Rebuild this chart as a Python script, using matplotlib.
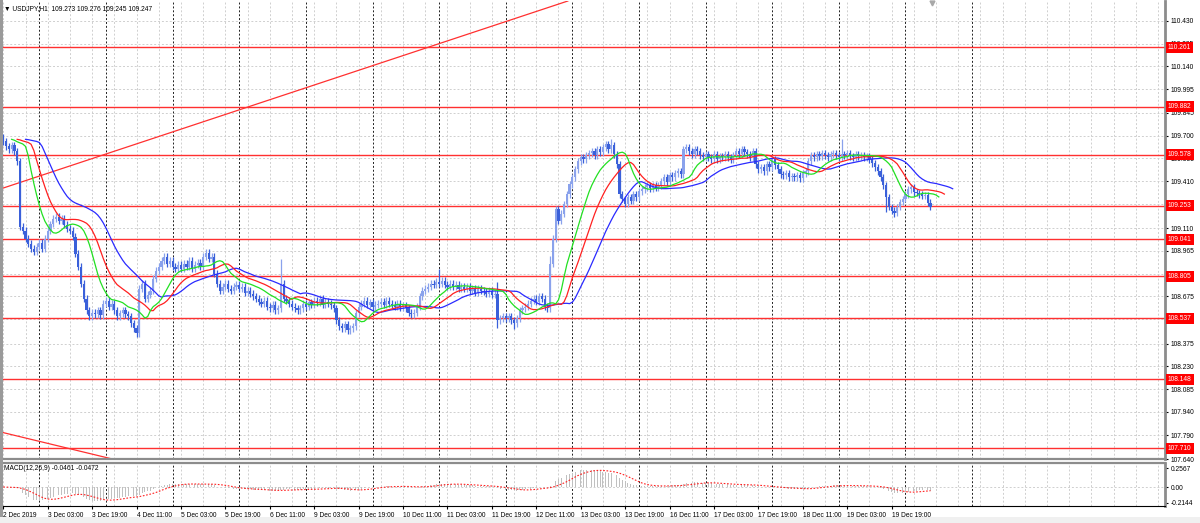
#------------------------------------------------imports---------------------------------------------------------------
import numpy as np
import pandas as pd
import matplotlib
matplotlib.use("Agg")
import matplotlib.pyplot as plt
from matplotlib.patches import Rectangle

#-------------------------------------------------data-----------------------------------------------------------------
# USDJPY H1 closes, bar 0 = 2 Dec 2019 11:00
closes = [
    109.663, 109.631, 109.612, 109.638, 109.600, 109.537, 109.118, 109.093, 109.042, 109.010,
    108.979, 108.960, 108.991, 109.017, 108.979, 109.042, 109.093, 109.137, 109.169, 109.182,
    109.156, 109.169, 109.131, 109.106, 109.093, 109.055, 108.947, 108.865, 108.757, 108.662,
    108.586, 108.548, 108.573, 108.561, 108.586, 108.554, 108.630, 108.649, 108.611, 108.630,
    108.586, 108.548, 108.567, 108.586, 108.561, 108.548, 108.504, 108.472, 108.440, 108.725,
    108.757, 108.662, 108.687, 108.713, 108.789, 108.839, 108.865, 108.903, 108.928, 108.884,
    108.903, 108.865, 108.852, 108.877, 108.852, 108.884, 108.865, 108.903, 108.852, 108.877,
    108.890, 108.865, 108.928, 108.953, 108.915, 108.928, 108.820, 108.757, 108.713, 108.738,
    108.757, 108.725, 108.713, 108.738, 108.751, 108.725, 108.738, 108.700, 108.713, 108.694,
    108.675, 108.662, 108.643, 108.630, 108.649, 108.611, 108.599, 108.624, 108.586, 108.599,
    108.757, 108.662, 108.649, 108.630, 108.611, 108.599, 108.586, 108.599, 108.630, 108.611,
    108.637, 108.624, 108.649, 108.637, 108.662, 108.624, 108.643, 108.630, 108.618, 108.599,
    108.523, 108.485, 108.472, 108.497, 108.459, 108.472, 108.485, 108.567, 108.611, 108.630,
    108.649, 108.624, 108.637, 108.611, 108.624, 108.630, 108.643, 108.624, 108.649, 108.630,
    108.624, 108.611, 108.630, 108.605, 108.618, 108.599, 108.573, 108.561, 108.573, 108.611,
    108.675, 108.713, 108.725, 108.738, 108.757, 108.751, 108.770, 108.757, 108.776, 108.751,
    108.738, 108.757, 108.738, 108.751, 108.725, 108.738, 108.725, 108.738, 108.713, 108.725,
    108.700, 108.725, 108.713, 108.706, 108.694, 108.713, 108.687, 108.694, 108.523, 108.535,
    108.548, 108.535, 108.548, 108.523, 108.504, 108.535, 108.586, 108.599, 108.611, 108.630,
    108.649, 108.662, 108.643, 108.675, 108.662, 108.611, 108.599, 108.884, 109.042, 109.232,
    109.156, 109.201, 109.264, 109.327, 109.391, 109.435, 109.486, 109.537, 109.562, 109.549,
    109.574, 109.587, 109.600, 109.574, 109.612, 109.593, 109.625, 109.644, 109.612, 109.638,
    109.581, 109.517, 109.327, 109.296, 109.264, 109.308, 109.283, 109.327, 109.308, 109.346,
    109.359, 109.372, 109.384, 109.365, 109.384, 109.372, 109.384, 109.410, 109.435, 109.403,
    109.448, 109.435, 109.460, 109.473, 109.454, 109.612, 109.625, 109.600, 109.581, 109.612,
    109.600, 109.574, 109.562, 109.581, 109.562, 109.549, 109.581, 109.549, 109.568, 109.562,
    109.581, 109.562, 109.549, 109.574, 109.600, 109.581, 109.612, 109.593, 109.581, 109.562,
    109.600, 109.517, 109.486, 109.498, 109.473, 109.517, 109.498, 109.549, 109.511, 109.486,
    109.454, 109.448, 109.460, 109.435, 109.441, 109.435, 109.448, 109.429, 109.460, 109.473,
    109.537, 109.574, 109.562, 109.581, 109.568, 109.587, 109.574, 109.562, 109.581, 109.587,
    109.574, 109.562, 109.581, 109.574, 109.587, 109.568, 109.562, 109.581, 109.568, 109.574,
    109.562, 109.568, 109.549, 109.524, 109.498, 109.473, 109.435, 109.384, 109.308, 109.245,
    109.220, 109.207, 109.245, 109.277, 109.296, 109.327, 109.359, 109.372, 109.340, 109.334,
    109.327, 109.315, 109.321, 109.273, 109.247,
]
first_open = 109.689

# notable wicks (bar index -> price)
spike_highs = {0: 109.700, 100: 108.915, 157: 108.852, 178: 108.770, 197: 108.930,
               219: 109.676, 302: 109.676}
spike_lows = {48: 108.420, 124: 108.440, 178: 108.472, 184: 108.470, 318: 109.215,
              321: 109.180}
WICK = 0.022

levels = [110.261, 109.882, 109.578, 109.253, 109.041, 108.805, 108.537, 108.148, 107.710]

price_ticks = [110.430, 110.285, 110.140, 109.995, 109.845, 109.700, 109.555, 109.410,
               109.265, 109.110, 108.965, 108.820, 108.675, 108.530, 108.375, 108.230,
               108.085, 107.940, 107.790, 107.640]
# ticks whose labels are fully covered by a level box in the terminal
hidden_ticks = [109.265, 108.820]

time_labels = ['2 Dec 2019', '3 Dec 03:00', '3 Dec 19:00', '4 Dec 11:00', '5 Dec 03:00',
               '5 Dec 19:00', '6 Dec 11:00', '9 Dec 03:00', '9 Dec 19:00', '10 Dec 11:00',
               '11 Dec 03:00', '11 Dec 19:00', '12 Dec 11:00', '13 Dec 03:00', '13 Dec 19:00',
               '16 Dec 11:00', '17 Dec 03:00', '17 Dec 19:00', '18 Dec 11:00', '19 Dec 03:00',
               '19 Dec 19:00']
LABEL_STEP = 16
# 00:00 bars (period separators)
day_starts = [13, 37, 61, 85, 109, 133, 157, 181, 205, 229, 253, 277, 301, 325, 349]

# trendlines: (bar index, price) anchor pairs
trend_up = [(-1.19, 109.359), (83.5, 109.855)]
trend_down = [(-1.19, 107.813), (37.4, 107.648)]

#-------------------------------------------------derived--------------------------------------------------------------
c = pd.Series(closes)
o = c.shift(1).fillna(first_open)
h = np.maximum(o, c) + WICK
l = np.minimum(o, c) - WICK
for k, v in spike_highs.items():
    h[k] = max(h[k], v)
for k, v in spike_lows.items():
    l[k] = min(l[k], v)
idx = np.arange(len(c))

med = (h + l) / 2
def smma(s, n):
    return s.ewm(alpha=1.0 / n, adjust=False).mean()
jaw, teeth, lips = smma(med, 13), smma(med, 8), smma(med, 5)

macd = c.ewm(span=12, adjust=False).mean() - c.ewm(span=26, adjust=False).mean()
signal = macd.rolling(9, min_periods=1).mean()

#-------------------------------------------------plotting-------------------------------------------------------------
plt.rcParams['font.family'] = ['Liberation Sans', 'DejaVu Sans']
FS = 4.8
W, H = 1200, 523
fig = plt.figure(figsize=(12, 5.23), dpi=100)
fig.patch.set_facecolor('white')

def px(x0, y0, x1, y1):
    return [x0 / W, 1 - y1 / H, (x1 - x0) / W, (y1 - y0) / H]

ax = fig.add_axes(px(2, 1, 1165, 459))
ax2 = fig.add_axes(px(2, 463, 1165, 506), sharex=ax)

xl = ((2 - 3.3) / 2.776, (1165 - 3.3) / 2.776)
grid_kw = dict(color='#cfcfcf', lw=0.7, ls=(0, (2, 2)), zorder=0)
sep_kw = dict(color='#202020', lw=0.7, ls=(0, (2, 2)), zorder=0.5)
for a in (ax, ax2):
    for g in range(0, int(xl[1]) + 1, 8):
        a.axvline(g, **grid_kw)
    for d in day_starts:
        a.axvline(d, **sep_kw)

for t in price_ticks:
    ax.axhline(t, **grid_kw)
ax2.axhline(0, **grid_kw)

# support / resistance levels and trendlines
for lv in levels:
    ax.axhline(lv, color='#ff3030', lw=1, zorder=1)
ax.axline(trend_up[0], trend_up[1], color='#ff3030', lw=0.9, zorder=1)
ax.axline(trend_down[0], trend_down[1], color='#ff3030', lw=0.9, zorder=1)

# candles
up = c >= o
col = np.where(up, '#8aa2ec', '#3a60da')
ax.vlines(idx, l, h, colors=col, lw=0.9, zorder=2)
body = np.maximum((c - o).abs(), 0.005)
ax.bar(idx, body, bottom=np.minimum(o, c), width=0.8, color=col, lw=0, zorder=3)

# alligator
ax.plot(idx + 8, jaw, color='#2a2aff', lw=0.9, zorder=4)
ax.plot(idx + 5, teeth, color='#ff2020', lw=0.9, zorder=4)
ax.plot(idx + 3, lips, color='#22e022', lw=0.9, zorder=4)

ax.set_xlim(*xl)
ax.set_ylim(107.654, 110.557)

ax.yaxis.tick_right()
ax.set_yticks(price_ticks)
ax.set_yticklabels(['' if t in hidden_ticks else '%.3f' % t for t in price_ticks])
ax.tick_params(axis='y', length=2, pad=2, labelsize=FS, colors='black')
ax.tick_params(axis='x', bottom=False, labelbottom=False)
for s in ('top', 'left'):
    ax.spines[s].set_visible(False)
ax.spines['right'].set_color('#8c8c8c')
ax.spines['right'].set_linewidth(2)
ax.spines['bottom'].set_color('#8c8c8c')
ax.spines['bottom'].set_linewidth(1.6)

for lv in levels:
    ax.text(1.0025, lv, '%.3f' % lv, transform=ax.get_yaxis_transform(), ha='left',
            va='center', fontsize=FS, color='white', zorder=10, clip_on=False,
            bbox=dict(boxstyle='square,pad=0.3', fc='#ff0000', ec='none'))

# chart shift marker
ax.plot([334.6], [110.545], marker='v', color='#a8a8a8', ms=3.5, clip_on=False, zorder=5)

# MACD
ax2.bar(idx, macd, width=0.3, color='#c0c0c0', lw=0, zorder=2)
ax2.plot(idx, signal, color='#ff2020', lw=0.8, ls=(0, (1.5, 1.5)), zorder=3)
ax2.set_ylim(-0.262, 0.331)
ax2.yaxis.tick_right()
ax2.set_yticks([0.2567, 0.0, -0.2144])
ax2.set_yticklabels(['0.2567', '0.00', '-0.2144'])
ax2.tick_params(axis='y', length=2, pad=2, labelsize=FS)
ax2.set_xticks(np.arange(len(time_labels)) * LABEL_STEP)
ax2.set_xticklabels(time_labels, ha='left')
ax2.tick_params(axis='x', length=2, pad=2, labelsize=FS)
ax2.spines['left'].set_visible(False)
ax2.spines['top'].set_color('#8c8c8c')
ax2.spines['top'].set_linewidth(1.6)
ax2.spines['right'].set_color('#8c8c8c')
ax2.spines['right'].set_linewidth(2)
ax2.spines['bottom'].set_linewidth(0.8)

# headers
fig.text(4 / W, 1 - 9 / H, '\u25bc USDJPY,H1  109.273 109.276 109.245 109.247',
         fontsize=FS, va='center', ha='left')
fig.text(4 / W, 1 - 469 / H, 'MACD(12,26,9) -0.0461 -0.0472', fontsize=FS,
         va='center', ha='left')

# window frame bits
fig.patches.append(Rectangle((0, 0), 2.5 / W, 1, transform=fig.transFigure,
                             fc='#9a9a9a', ec='none'))
fig.patches.append(Rectangle((0, 0), 1, 6 / H, transform=fig.transFigure,
                             fc='#f0f0f0', ec='none'))

#-------------------------------------------------saving---------------------------------------------------------------
fig.savefig('out.png', dpi=100)
